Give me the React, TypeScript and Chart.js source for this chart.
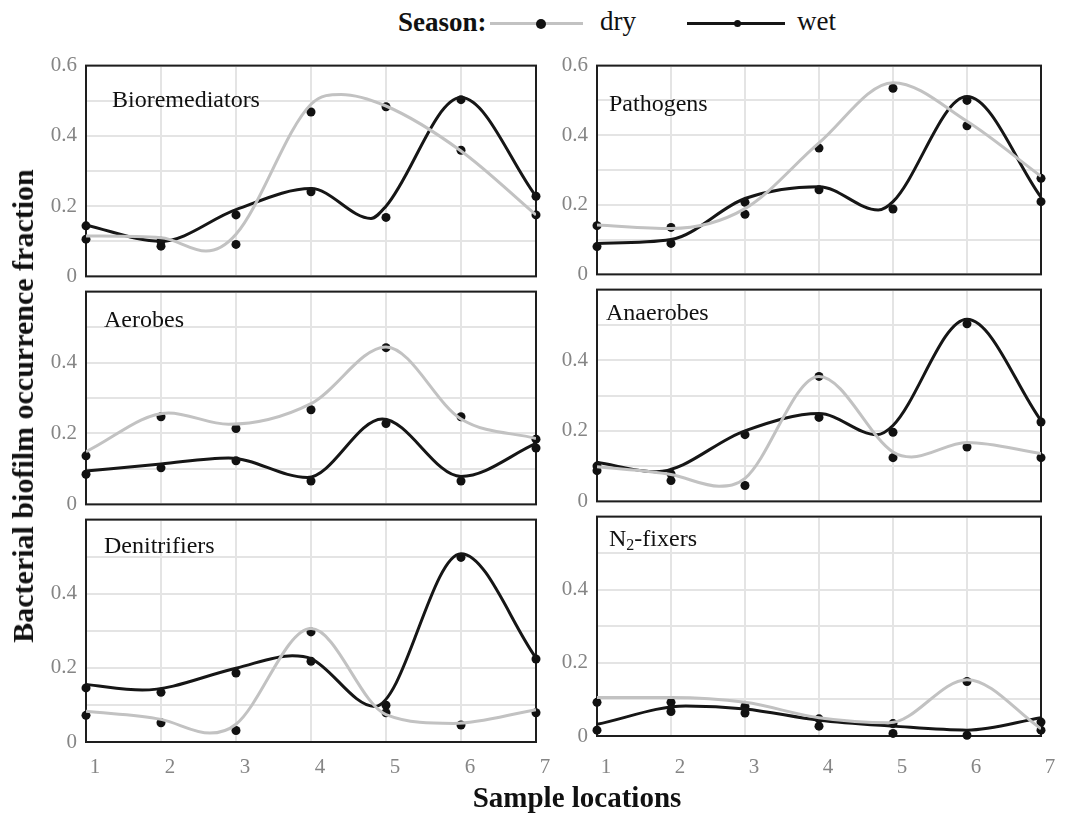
import React, { useEffect, useRef } from "react";
import { Chart, registerables } from "chart.js";

Chart.register(...registerables);

type Pt = [number, number];

// ---------- data ----------
const seasons = ["dry", "wet"];
const locations = [1, 2, 3, 4, 5, 6, 7];
const xTickLabels = ["1", "2", "3", "4", "5", "6", "7"];
const yTickValues = [0, 0.2, 0.4, 0.6];
const yTickLabels = ["0", "0.2", "0.4", "0.6"];
const groupNames = ["Bioremediators", "Pathogens", "Aerobes", "Anaerobes", "Denitrifiers", "N₂-fixers"];

// observed fractions at sample locations 1..7
const bioDry = [0.106, 0.086, 0.091, 0.468, 0.483, 0.359, 0.175];
const bioWet = [0.144, 0.1, 0.175, 0.241, 0.168, 0.503, 0.228];
const patDry = [0.14, 0.135, 0.173, 0.363, 0.535, 0.427, 0.276];
const patWet = [0.08, 0.089, 0.207, 0.243, 0.188, 0.5, 0.209];
const aerDry = [0.137, 0.247, 0.214, 0.267, 0.442, 0.247, 0.184];
const aerWet = [0.085, 0.103, 0.123, 0.066, 0.228, 0.066, 0.159];
const anaDry = [0.087, 0.059, 0.045, 0.354, 0.124, 0.154, 0.124];
const anaWet = [0.1, 0.078, 0.189, 0.238, 0.196, 0.503, 0.225];
const denDry = [0.072, 0.052, 0.031, 0.297, 0.079, 0.046, 0.079];
const denWet = [0.146, 0.134, 0.186, 0.218, 0.099, 0.498, 0.224];
const n2Dry = [0.092, 0.092, 0.081, 0.047, 0.034, 0.149, 0.016];
const n2Wet = [0.016, 0.067, 0.063, 0.027, 0.007, 0.002, 0.038];

// fitted smooth curves (location, fraction)
const bioDryCurve: Pt[] = [[1, 0.115], [2, 0.11], [2.6, 0.072], [3, 0.12], [4, 0.49], [4.4, 0.518], [5, 0.485], [6, 0.357], [7, 0.175]];
const bioWetCurve: Pt[] = [[1, 0.146], [2, 0.1], [3, 0.19], [4, 0.25], [4.8, 0.165], [5, 0.2], [6, 0.509], [7, 0.228]];
const patDryCurve: Pt[] = [[1, 0.142], [2, 0.132], [3, 0.189], [4, 0.378], [5, 0.551], [6, 0.44], [7, 0.282]];
const patWetCurve: Pt[] = [[1, 0.089], [2, 0.1], [3, 0.218], [4, 0.252], [4.8, 0.185], [5, 0.209], [6, 0.511], [7, 0.222]];
const aerDryCurve: Pt[] = [[1, 0.149], [2.1, 0.258], [2.9, 0.226], [4, 0.284], [5, 0.444], [6, 0.241], [7, 0.186]];
const aerWetCurve: Pt[] = [[1, 0.094], [2, 0.114], [2.9, 0.131], [3.95, 0.076], [4.95, 0.241], [6, 0.079], [7, 0.172]];
const anaDryCurve: Pt[] = [[1, 0.098], [2, 0.076], [2.65, 0.043], [3, 0.065], [4, 0.354], [5, 0.14], [5.25, 0.126], [6, 0.167], [7, 0.136]];
const anaWetCurve: Pt[] = [[1, 0.111], [1.8, 0.084], [3, 0.2], [4, 0.249], [4.78, 0.189], [5, 0.215], [6, 0.516], [7, 0.229]];
const denDryCurve: Pt[] = [[1, 0.083], [2, 0.061], [2.65, 0.024], [3, 0.048], [4, 0.306], [5, 0.074], [5.9, 0.05], [7, 0.087]];
const denWetCurve: Pt[] = [[1, 0.155], [1.75, 0.14], [3, 0.199], [3.75, 0.233], [4, 0.225], [4.85, 0.096], [6, 0.508], [7, 0.227]];
const n2DryCurve: Pt[] = [[1, 0.105], [2, 0.105], [3, 0.092], [4, 0.05], [4.95, 0.036], [6, 0.154], [7, 0.02]];
const n2WetCurve: Pt[] = [[1, 0.032], [2.2, 0.082], [3, 0.074], [4, 0.043], [5, 0.027], [6, 0.016], [7, 0.05]];

const observed = [
  [bioDry, bioWet],
  [patDry, patWet],
  [aerDry, aerWet],
  [anaDry, anaWet],
  [denDry, denWet],
  [n2Dry, n2Wet],
];
const curves = [
  [bioDryCurve, bioWetCurve],
  [patDryCurve, patWetCurve],
  [aerDryCurve, aerWetCurve],
  [anaDryCurve, anaWetCurve],
  [denDryCurve, denWetCurve],
  [n2DryCurve, n2WetCurve],
];

// ---------- layout & style ----------
const FONT = '"Liberation Serif", "Times New Roman", Times, serif';
const DRY_COLOR = "#c2c2c2";
const WET_COLOR = "#161616";
const DOT_COLOR = "#111111";
const GRID_COLOR = "#e4e4e4";
const TICK_COLOR = "#858585";
const Y_AXIS_W = 70;
const PAD_T = 14;
const PAD_R = 30;
const PAD_B = 14;
const X_AXIS_H = 45;

const panelBoxes = [
  { L: 86, T: 58, R: 536, B: 284, dx: 26, dy: 35, top: true, bottom: false, xPad: 13 },
  { L: 597, T: 58, R: 1041, B: 282, dx: 12, dy: 39, top: true, bottom: false, xPad: 13 },
  { L: 86, T: 284, R: 536, B: 512, dx: 18, dy: 29, top: false, bottom: false, xPad: 13 },
  { L: 597, T: 282, R: 1041, B: 509, dx: 9, dy: 24, top: false, bottom: false, xPad: 13 },
  { L: 86, T: 512, R: 536, B: 742, dx: 18, dy: 27, top: false, bottom: true, xPad: 13 },
  { L: 597, T: 509, R: 1041, B: 736, dx: 12, dy: 23, top: false, bottom: true, xPad: 19 },
];

const framePlugin = {
  id: "frame",
  beforeDatasetsDraw(chart: any) {
    const { ctx, chartArea } = chart;
    ctx.save();
    ctx.strokeStyle = "#1e1e1e";
    ctx.lineWidth = 2;
    ctx.strokeRect(chartArea.left, chartArea.top, chartArea.right - chartArea.left, chartArea.bottom - chartArea.top);
    ctx.restore();
  },
};

function makeTitlePlugin(text: string, dx: number, dy: number) {
  return {
    id: "panelTitle",
    afterDraw(chart: any) {
      const { ctx, chartArea } = chart;
      ctx.save();
      ctx.fillStyle = "#111";
      ctx.textBaseline = "middle";
      ctx.textAlign = "left";
      let x = chartArea.left + dx;
      const y = chartArea.top + dy;
      const parts = text.split("₂");
      parts.forEach((part, i) => {
        ctx.font = `24px ${FONT}`;
        ctx.fillText(part, x, y);
        x += ctx.measureText(part).width;
        if (i < parts.length - 1) {
          ctx.font = `16px ${FONT}`;
          ctx.fillText("2", x, y + 6);
          x += ctx.measureText("2").width;
        }
      });
      ctx.restore();
    },
  };
}

export default function App() {
  const refs = useRef<(HTMLCanvasElement | null)[]>([]);

  useEffect(() => {
    const charts: Chart[] = [];
    panelBoxes.forEach((box, p) => {
      const canvas = refs.current[p];
      if (!canvas) return;
      const [dryCurve, wetCurve] = curves[p];
      const [dryObs, wetObs] = observed[p];
      const curveDs = (c: Pt[], color: string, label: string) => ({
        label,
        data: c.map(([x, y]) => ({ x, y })),
        borderColor: color,
        borderWidth: 3,
        pointRadius: 0,
        cubicInterpolationMode: "monotone" as const,
        fill: false,
      });
      const dotDs = (v: number[], label: string) => ({
        label,
        data: locations.map((x, i) => ({ x, y: v[i] })),
        showLine: false,
        pointRadius: 4.5,
        pointBackgroundColor: DOT_COLOR,
        pointBorderColor: DOT_COLOR,
        pointBorderWidth: 0,
        clip: false as any,
      });
      const chart = new Chart(canvas, {
        type: "line",
        data: {
          datasets: [
            curveDs(dryCurve, DRY_COLOR, seasons[0] + " fit"),
            curveDs(wetCurve, WET_COLOR, seasons[1] + " fit"),
            dotDs(dryObs, seasons[0]),
            dotDs(wetObs, seasons[1]),
          ] as any,
        },
        options: {
          animation: false,
          responsive: false,
          events: [],
          layout: { padding: { left: 0, top: PAD_T, right: PAD_R, bottom: box.bottom ? 0 : PAD_B } },
          plugins: { legend: { display: false }, tooltip: { enabled: false } },
          scales: {
            x: {
              type: "linear",
              min: 1,
              max: 7,
              afterFit: (s: any) => {
                s.height = box.bottom ? X_AXIS_H : 0;
              },
              border: { display: false },
              grid: { color: GRID_COLOR, lineWidth: 2, drawTicks: false },
              ticks: {
                display: box.bottom,
                stepSize: 1,
                padding: box.xPad,
                labelOffset: 9,
                color: TICK_COLOR,
                font: { family: FONT, size: 21 },
                maxRotation: 0,
                callback: (v: any) => {
                  const i = locations.indexOf(Number(v));
                  return i >= 0 ? xTickLabels[i] : "";
                },
              },
            },
            y: {
              min: 0,
              max: 0.6,
              afterFit: (s: any) => {
                s.width = Y_AXIS_W;
              },
              border: { display: false },
              grid: { color: GRID_COLOR, lineWidth: 2, drawTicks: false },
              ticks: {
                stepSize: 0.1,
                padding: 9,
                color: TICK_COLOR,
                font: { family: FONT, size: 21 },
                callback: (v: any) => {
                  const idx = yTickValues.findIndex((t) => Math.abs(t - Number(v)) < 1e-6);
                  if (idx < 0) return "";
                  if (!box.top && idx === yTickValues.length - 1) return "";
                  return yTickLabels[idx];
                },
              },
            },
          },
        } as any,
        plugins: [framePlugin, makeTitlePlugin(groupNames[p], box.dx, box.dy)],
      });
      charts.push(chart);
    });
    return () => charts.forEach((c) => c.destroy());
  }, []);

  const text = (size: number, bold = false): React.CSSProperties => ({
    position: "absolute",
    fontFamily: FONT,
    fontSize: size,
    fontWeight: bold ? "bold" : "normal",
    lineHeight: `${size}px`,
    whiteSpace: "nowrap",
    color: "#111",
  });

  return (
    <div style={{ position: "absolute", left: 0, top: 0, width: 1066, height: 814, background: "#fff", overflow: "hidden" }}>
      {panelBoxes.map((box, p) => {
        const w = Y_AXIS_W + (box.R - box.L) + PAD_R;
        const h = PAD_T + (box.B - box.T) + (box.bottom ? X_AXIS_H : PAD_B);
        return (
          <canvas
            key={p}
            ref={(el) => {
              refs.current[p] = el;
            }}
            width={w}
            height={h}
            style={{ position: "absolute", left: box.L - Y_AXIS_W, top: box.T - PAD_T, width: w, height: h }}
          />
        );
      })}

      {/* legend */}
      <div style={{ ...text(27, true), left: 398, top: 23 - 14 }}>Season:</div>
      <div style={{ position: "absolute", left: 490, top: 22, width: 93, height: 3, background: DRY_COLOR }} />
      <div style={{ position: "absolute", left: 536, top: 18.5, width: 10, height: 10, borderRadius: "50%", background: DOT_COLOR }} />
      <div style={{ ...text(27), left: 600, top: 23 - 15 }}>{seasons[0]}</div>
      <div style={{ position: "absolute", left: 687, top: 22, width: 98, height: 3, background: WET_COLOR }} />
      <div style={{ position: "absolute", left: 733.5, top: 20, width: 7, height: 7, borderRadius: "50%", background: DOT_COLOR }} />
      <div style={{ ...text(27), left: 797, top: 23 - 15 }}>{seasons[1]}</div>

      {/* axis titles */}
      <div
        style={{
          ...text(30, true),
          left: 23,
          top: 406,
          transform: "translate(-50%, -50%) rotate(-90deg)",
        }}
      >
        Bacterial biofilm occurrence fraction
      </div>
      <div style={{ ...text(29, true), left: 577, top: 797, transform: "translate(-50%, -50%)" }}>Sample locations</div>
    </div>
  );
}
